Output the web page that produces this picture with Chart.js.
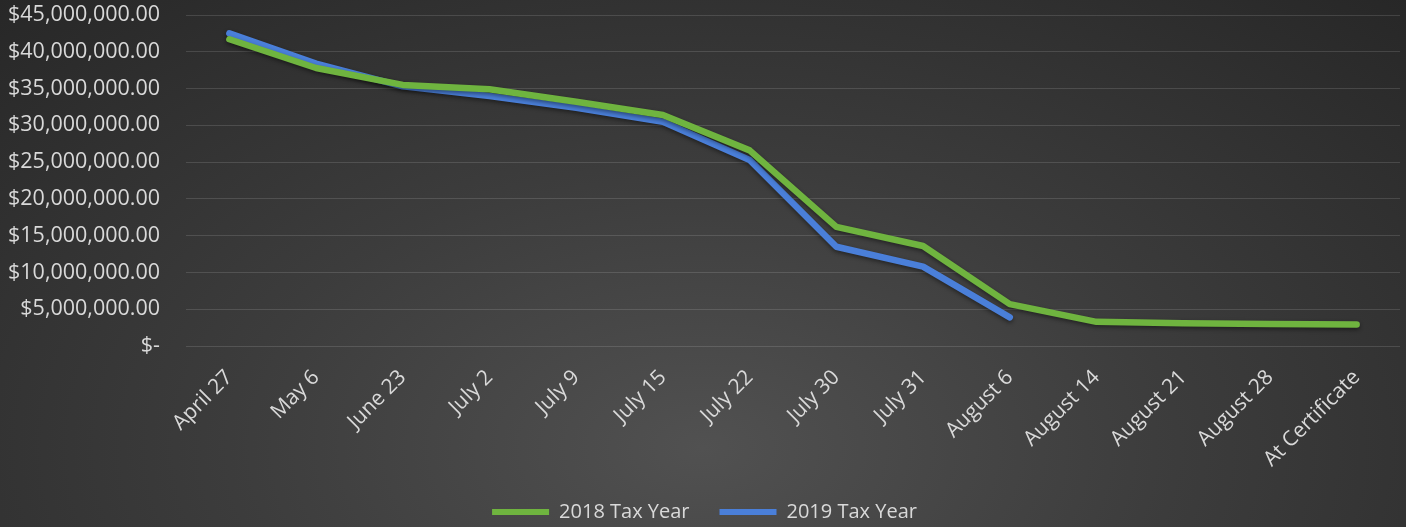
<!DOCTYPE html>
<html>
<head>
<meta charset="utf-8">
<script src="https://cdn.jsdelivr.net/npm/chart.js@4"></script>
<style>
  html, body { margin: 0; padding: 0; }
  body {
    width: 1406px; height: 527px; overflow: hidden;
    background: radial-gradient(ellipse 75% 120% at 50% 85%, #515151 0%, #3c3c3c 45%, #262626 100%);
  }
  #wrap { position: relative; width: 1406px; height: 527px; }
</style>
</head>
<body>
<div id="wrap"><canvas id="lineCanvas"></canvas></div>
<script>
const dates = ['April 27', 'May 6', 'June 23', 'July 2', 'July 9', 'July 15', 'July 22',
  'July 30', 'July 31', 'August 6', 'August 14', 'August 21', 'August 28', 'At Certificate'];

const taxYear2018 = [41700000, 37800000, 35500000, 34900000, 33200000, 31400000, 26600000,
  16200000, 13600000, 5700000, 3300000, 3100000, 3000000, 2950000];

const taxYear2019 = [42500000, 38400000, 35300000, 34000000, 32400000, 30500000, 25300000,
  13500000, 10800000, 3900000, null, null, null, null];

const yTicks = [0, 5000000, 10000000, 15000000, 20000000, 25000000, 30000000, 35000000, 40000000, 45000000];

const textColor = '#d9d9d9';
const gridColor = 'rgba(255, 255, 255, 0.13)';

function money(v) {
    if (v === 0) return '$-';
    return '$' + v.toLocaleString('en-US', { minimumFractionDigits: 2, maximumFractionDigits: 2 });
}

// soft shadow under the lines, like the Excel original
const lineShadow = {
    id: 'lineShadow',
    beforeDatasetsDraw(chart) {
        const ctx = chart.ctx;
        ctx.save();
        ctx.shadowColor = 'rgba(0, 0, 0, 0.45)';
        ctx.shadowBlur = 4;
        ctx.shadowOffsetY = 2;
    },
    afterDatasetsDraw(chart) {
        chart.ctx.restore();
    }
};

// drop the automatic label overhang so layout padding decides the plot box
function noOverhang(scale) {
    scale.paddingLeft = 0;
    scale.paddingRight = 0;
    scale.paddingTop = 0;
    scale.paddingBottom = 0;
}

function drawChart() {
    const lineCanvas = document.getElementById('lineCanvas');

    new Chart(lineCanvas, {
        type: 'line',
        data: {
            labels: dates,
            datasets: [{
                label: '2018 Tax Year',
                data: taxYear2018,
                borderColor: '#6fb43f',
                backgroundColor: '#6fb43f',
                borderWidth: 6.5,
                pointRadius: 0,
                tension: 0,
                borderJoinStyle: 'round',
                borderCapStyle: 'round'
            }, {
                label: '2019 Tax Year',
                data: taxYear2019,
                borderColor: '#4a7fd9',
                backgroundColor: '#4a7fd9',
                borderWidth: 6.5,
                pointRadius: 0,
                tension: 0,
                borderJoinStyle: 'round',
                borderCapStyle: 'round'
            }]
        },
        options: {
            responsive: true,
            maintainAspectRatio: false,
            animation: false,
            layout: { padding: { left: 9, right: 6, top: 15, bottom: -5 } },
            plugins: {
                tooltip: { enabled: false },
                legend: {
                    position: 'bottom',
                    labels: {
                        color: textColor,
                        font: { family: 'Open Sans', size: 20 },
                        boxWidth: 57,
                        boxHeight: 6,
                        useBorderRadius: true,
                        borderRadius: 3,
                        padding: 30,
                        generateLabels(chart) {
                            return chart.data.datasets.map((ds, i) => ({
                                text: ds.label,
                                fillStyle: ds.borderColor,
                                strokeStyle: ds.borderColor,
                                lineWidth: 0,
                                fontColor: textColor,
                                datasetIndex: i
                            }));
                        }
                    }
                }
            },
            scales: {
                x: {
                    offset: true,
                    grid: { display: false },
                    border: { display: false },
                    afterFit(scale) {
                        noOverhang(scale);
                        scale.height -= 11;
                    },
                    ticks: {
                        color: textColor,
                        font: { family: 'Open Sans', size: 21 },
                        minRotation: 45,
                        maxRotation: 45,
                        padding: 11,
                        autoSkip: false
                    }
                },
                y: {
                    min: 0,
                    max: 45000000,
                    afterBuildTicks(scale) {
                        scale.ticks = yTicks.map(v => ({ value: v }));
                    },
                    afterFit(scale) {
                        noOverhang(scale);
                        scale.width = 177;
                    },
                    grid: { color: gridColor, lineWidth: 1, drawTicks: false },
                    border: { display: false },
                    ticks: {
                        color: textColor,
                        font: { family: 'Open Sans', size: 21.5 },
                        padding: 26,
                        callback: v => money(v)
                    }
                }
            }
        },
        plugins: [lineShadow]
    });
}

document.fonts.load('21px "Open Sans"').then(drawChart, drawChart);
</script>
</body>
</html>
